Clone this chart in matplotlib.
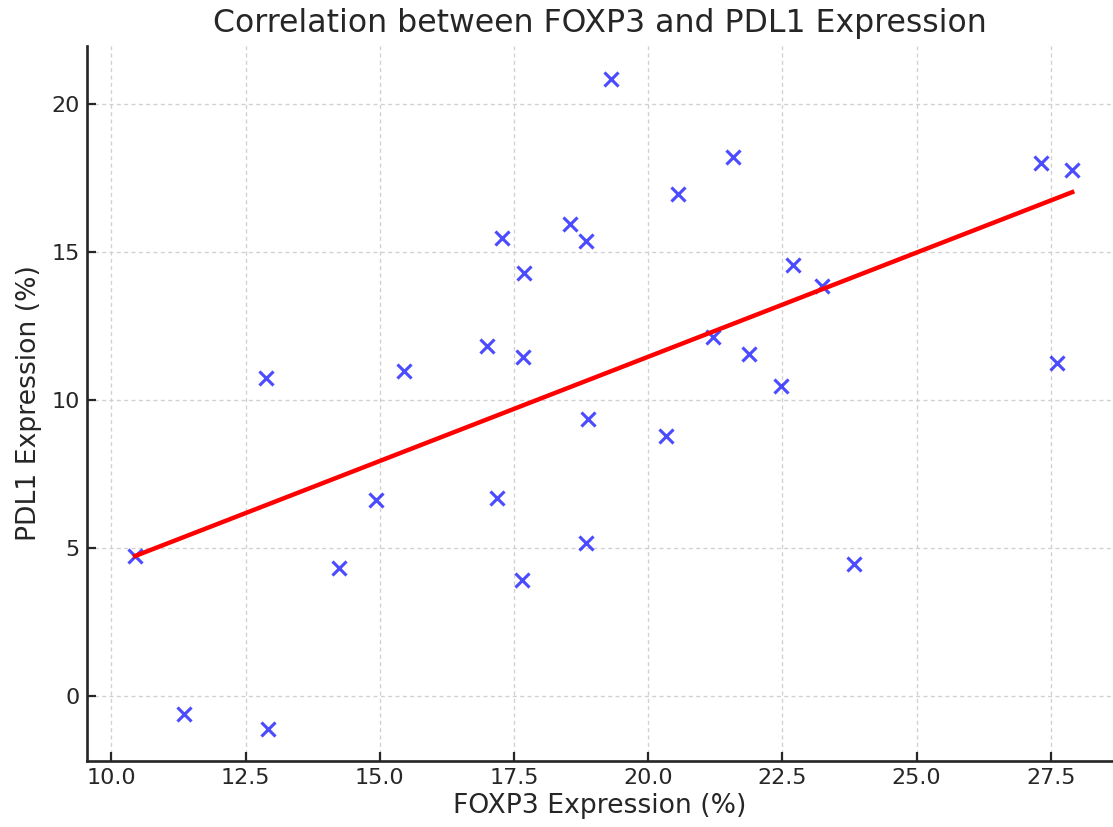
import numpy as np
import matplotlib
matplotlib.use("Agg")
import matplotlib.pyplot as plt

# values
foxp3 = [10.44, 11.35, 12.88, 12.92, 14.24, 14.93, 15.45, 17.00, 17.18, 17.28,
         17.65, 17.67, 17.69, 18.55, 18.84, 18.84, 18.88, 19.31, 20.33, 20.56,
         21.21, 21.58, 21.88, 22.47, 22.70, 23.24, 23.83, 27.32, 27.62, 27.90]
pdl1 = [4.72, -0.61, 10.73, -1.11, 4.32, 6.61, 10.97, 11.81, 6.68, 15.46,
        3.91, 11.44, 14.28, 15.93, 5.16, 15.36, 9.35, 20.82, 8.77, 16.94,
        12.12, 18.19, 11.54, 10.46, 14.55, 13.84, 4.45, 17.99, 11.24, 17.75]

x = np.array(foxp3)
y = np.array(pdl1)
slope, intercept = np.polyfit(x, y, 1)
xfit = np.array([x.min(), x.max()])
yfit = slope * xfit + intercept

fig = plt.figure(figsize=(1113 / 160, 827 / 160), dpi=160)
ax = fig.add_axes([0.0784, 0.0802, 0.9216, 0.8645])

ax.scatter(x, y, marker="x", s=40, color="blue", alpha=0.7, linewidths=1.4, zorder=3)
ax.plot(xfit, yfit, color="red", linewidth=2, zorder=4)

ax.set_xlim(9.55, 28.66)
ax.set_ylim(-2.18, 21.95)
ax.set_xticks([10.0, 12.5, 15.0, 17.5, 20.0, 22.5, 25.0, 27.5])
ax.set_xticklabels(["10.0", "12.5", "15.0", "17.5", "20.0", "22.5", "25.0", "27.5"])
ax.set_yticks([0, 5, 10, 15, 20])

ax.grid(True, linestyle=(0, (3, 2.5)), color="#d0d0d0", linewidth=0.6)
ax.set_axisbelow(True)
for s in ["top", "right"]:
    ax.spines[s].set_visible(False)
for s in ["left", "bottom"]:
    ax.spines[s].set_color("#262626")
    ax.spines[s].set_linewidth(1.2)
ax.tick_params(direction="in", length=4, width=1, colors="#262626", labelsize=10,
               labelcolor="#262626")

ax.set_title("Correlation between FOXP3 and PDL1 Expression", fontsize=14.2, color="#262626")
ax.set_xlabel("FOXP3 Expression (%)", fontsize=12, color="#262626", labelpad=2)
ax.set_ylabel("PDL1 Expression (%)", fontsize=12, color="#262626")

fig.savefig("out.png", dpi=160)
